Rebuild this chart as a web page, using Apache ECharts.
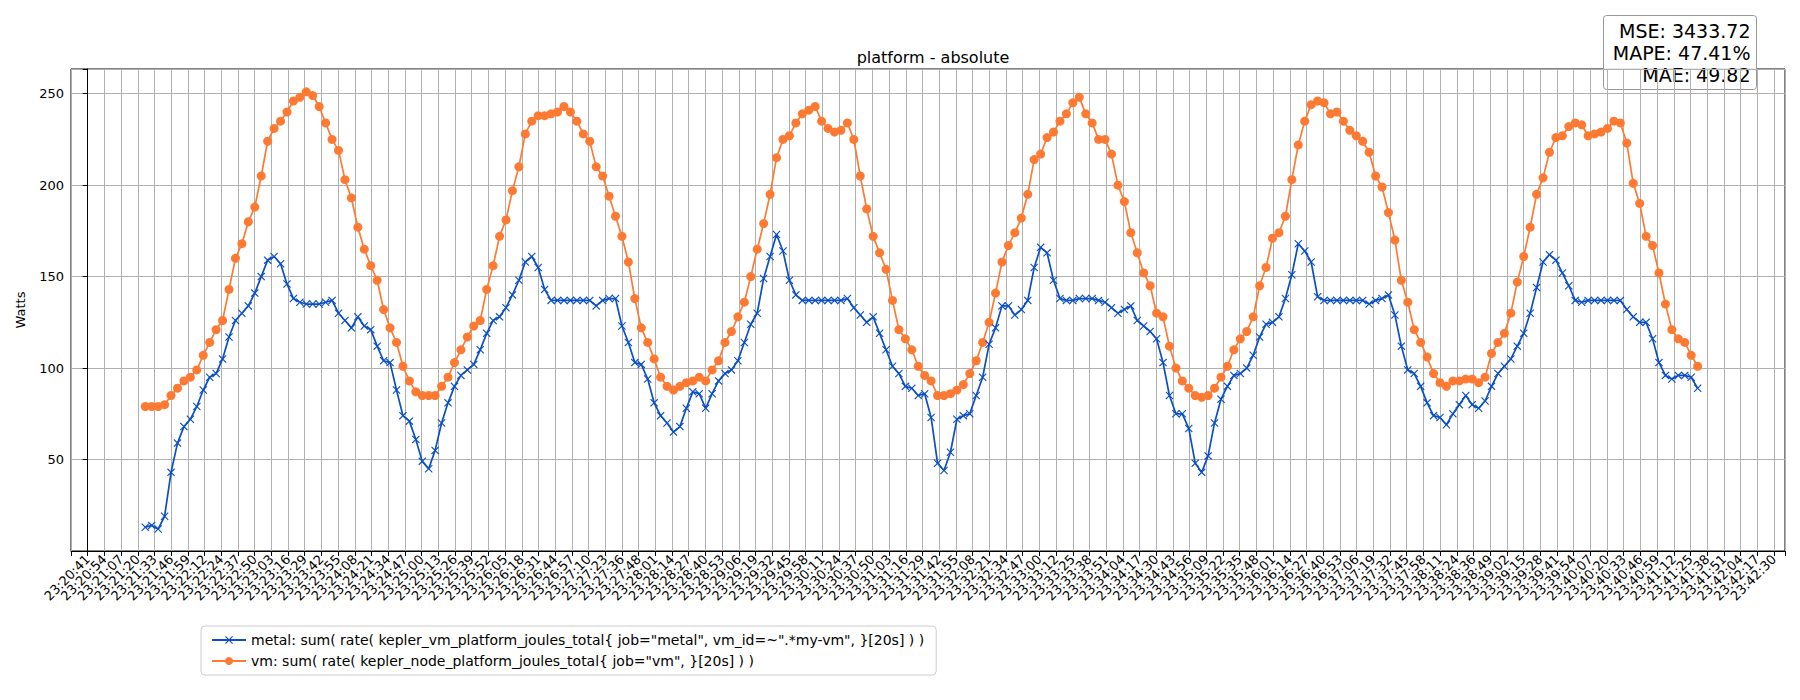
<!DOCTYPE html>
<html>
<head>
<meta charset="utf-8">
<script src="https://cdn.jsdelivr.net/npm/echarts@6/dist/echarts.min.js"></script>
<style>
  html, body { margin: 0; padding: 0; background: #fff; }
  #chart { width: 1800px; height: 700px; }
</style>
</head>
<body>
<div id="chart"></div>
<script>
// sample times: seconds after 23:20:00, one sample every 5 s
var startSec = 86;
var stepSec = 5;

var metalValues = [
  13, 14, 12, 19, 43, 59, 68, 72, 79, 88, 95, 97, 105, 117, 126, 130, 134, 141, 150, 159,
  161, 157, 146, 138, 136, 135, 135, 135, 136, 137, 130, 126, 122, 128, 123,
  121, 112, 104, 103, 88, 74, 71, 61, 49, 45, 55, 70, 81, 90, 96, 99, 102, 110, 119, 126,
  128, 133, 140, 148, 158, 161, 155, 143, 137, 137, 137, 137, 137, 137, 137, 134, 137, 138, 138, 123,
  114, 103, 102, 94, 81, 74, 70, 65, 68, 78, 87,
  86, 78, 86, 93, 97, 99, 104, 114, 124, 130, 149, 161, 173, 164, 148, 140, 137, 137, 137, 137,
  137, 137, 137, 138, 133, 129, 125, 128, 119, 110, 101, 97, 90, 89, 85, 86, 73, 48, 44, 54,
  72, 74, 75, 85, 95, 113, 122, 134, 134, 129, 132, 137, 155,
  166, 163, 148, 138, 137, 137, 138, 138, 138, 137, 136, 133, 130, 132, 134, 126, 123, 120, 116, 103,
  85, 75, 75, 67, 48, 43, 52, 70, 83, 90, 96, 97, 100, 107, 117, 124, 125, 128, 138, 151,
  168, 164, 158, 139, 137, 137, 137, 137, 137, 137, 137,
  135, 137, 138, 140, 129, 112, 99, 97, 90, 81, 74, 73, 69, 75, 80, 85, 80, 78, 82, 90,
  97, 101, 105, 112, 119, 130, 144, 158, 162, 159, 152, 145, 137, 136, 137, 137, 137, 137, 137, 137,
  132, 128, 125, 125, 116, 103, 96, 94, 96, 96, 95, 89
];

var vmValues = [
  79, 79, 79, 80, 85, 89, 93, 95, 99, 107, 114, 121, 126, 143, 160, 168, 180, 188, 205, 224,
  231, 235, 240, 246, 248, 251, 249, 243, 234, 225, 219, 203, 193, 177, 165,
  156, 148, 132, 122, 114, 101, 93, 87, 85, 85, 85, 90, 95, 103, 110, 117, 123, 126, 143, 156,
  172, 181, 197, 210, 228, 235, 238, 238, 239, 240, 243, 240, 235, 228, 224, 210, 205, 194, 183, 172,
  158, 138, 122, 114, 105, 95, 90, 88, 90, 92, 93,
  95, 93, 99, 104, 114, 120, 128, 136, 150, 165, 179, 195, 215, 225, 227, 234, 239, 241, 243, 235,
  231, 229, 230, 234, 225, 205, 187, 172, 163, 154, 137, 121, 116, 110, 101, 96, 93, 85, 85, 86,
  88, 91, 97, 104, 114, 125, 141, 158, 167, 174, 182, 195, 214,
  217, 226, 229, 235, 239, 245, 248, 239, 234, 225, 225, 217, 200, 191, 174, 163, 152, 145, 130, 128,
  112, 100, 93, 89, 85, 84, 85, 89, 95, 101, 110, 116, 120, 128, 145, 155, 171, 174, 183, 203,
  222, 235, 244, 246, 245, 239, 240, 235, 230, 227, 224,
  218, 205, 199, 185, 170, 148, 136, 121, 114, 106, 97, 92, 90, 93, 93, 94, 94, 92, 95, 108,
  114, 119, 130, 147, 161, 177, 195, 204, 218, 226, 227, 232, 234, 233, 227, 228, 229, 231, 235, 234,
  223, 201, 190, 172, 167, 152, 135, 121, 116, 114, 107, 101
];

// x tick labels: first tick at 23:20:41.3, ticks every 12.96 s
var tickStartSec = 41.3;
var tickStepSec = 12.96;
var tickCount = 102;

var yTicks = [50, 100, 150, 200, 250];

var seriesNames = [
  'metal: sum( rate( kepler_vm_platform_joules_total{ job="metal", vm_id=~".*my-vm", }[20s] ) )',
  'vm: sum( rate( kepler_node_platform_joules_total{ job="vm", }[20s] ) )'
];

var metrics = ['MSE: 3433.72', 'MAPE: 47.41%', 'MAE: 49.82'];

function pad(n) { return (n < 10 ? '0' : '') + n; }
function clock(sec) {
  var total = 23 * 3600 + 20 * 60 + sec;
  var h = Math.floor(total / 3600), m = Math.floor((total % 3600) / 60), s = total % 60;
  return pad(h) + ':' + pad(m) + ':' + pad(s);
}
function toTickUnits(sec) { return (sec - tickStartSec) / tickStepSec; }

function pairs(vals) {
  return vals.map(function (v, i) {
    return [toTickUnits(startSec + i * stepSec), v];
  });
}

var blue = '#0b4fc4';
var orange = '#fe7a33';
var font = 'DejaVu Sans';
var xMarker = 'path://M0,1L1,0L5,4L9,0L10,1L6,5L10,9L9,10L5,6L1,10L0,9L4,5Z';

var chart = echarts.init(document.getElementById('chart'), null, { renderer: 'svg' });
chart.setOption({
  animation: false,
  backgroundColor: '#fff',
  textStyle: { fontFamily: font },
  title: {
    text: 'platform - absolute',
    left: 928, top: 44, textAlign: 'center',
    textStyle: { fontFamily: font, fontSize: 16, fontWeight: 'normal', color: '#000' }
  },
  grid: {
    left: 71, right: 15, top: 69, bottom: 149,
    show: true, borderColor: '#000', borderWidth: 1, backgroundColor: 'transparent'
  },
  legend: {
    left: 201, top: 626, orient: 'vertical',
    padding: [7, 12, 7, 10], itemGap: 7, itemWidth: 34, itemHeight: 10,
    borderColor: '#cccccc', borderWidth: 1, borderRadius: 4,
    textStyle: { fontFamily: font, fontSize: 14, color: '#000' },
    data: seriesNames
  },
  xAxis: {
    type: 'value',
    min: -1,
    max: toTickUnits(tickStartSec + (tickCount - 1) * tickStepSec) + 0.66,
    interval: 1,
    axisLine: { show: true, lineStyle: { color: '#000' } },
    axisTick: { show: true, length: 5, lineStyle: { color: '#000' } },
    splitLine: { show: true, lineStyle: { color: '#b0b0b0', width: 1 } },
    axisLabel: {
      rotate: 45, fontSize: 13, color: '#000', fontFamily: font, margin: 6,
      showMinLabel: true, showMaxLabel: true, hideOverlap: false,
      formatter: function (v) {
        if (v < -0.01 || Math.abs(v - Math.round(v)) > 0.01 || Math.round(v) >= tickCount) return '';
        return clock(Math.floor(tickStartSec + Math.round(v) * tickStepSec));
      }
    }
  },
  yAxis: {
    type: 'value',
    min: 0, max: 263.5, interval: 50,
    name: 'Watts', nameLocation: 'middle', nameGap: 44,
    nameTextStyle: { fontFamily: font, fontSize: 13, color: '#000' },
    axisLine: { show: true, lineStyle: { color: '#000' } },
    axisTick: { show: true, length: 5, lineStyle: { color: '#000' } },
    splitLine: { show: true, lineStyle: { color: '#b0b0b0', width: 1 } },
    axisLabel: {
      fontSize: 13, color: '#000', fontFamily: font, margin: 7,
      formatter: function (v) { return yTicks.indexOf(v) >= 0 ? String(v) : ''; }
    }
  },
  series: [
    {
      name: seriesNames[0], type: 'line', data: pairs(metalValues),
      color: blue, symbol: xMarker, symbolSize: 8, showAllSymbol: true,
      lineStyle: { width: 1.7, color: blue }, itemStyle: { color: blue }, z: 3
    },
    {
      name: seriesNames[1], type: 'line', data: pairs(vmValues),
      color: orange, symbol: 'circle', symbolSize: 9, showAllSymbol: true,
      lineStyle: { width: 1.7, color: orange }, itemStyle: { color: orange }, z: 2
    }
  ],
  graphic: [{
    type: 'group', right: 43, top: 15, z: 100,
    children: [
      { type: 'rect', shape: { x: 0, y: 0, width: 153, height: 74, r: 3 },
        style: { fill: 'rgba(255,255,255,0.8)', stroke: '#999', lineWidth: 1 } },
      { type: 'text', x: 147, y: 4,
        style: { text: metrics.join('\n'), fontFamily: font, fontSize: 19, lineHeight: 22,
                 align: 'right', fill: '#000' } }
    ]
  }]
});
</script>
</body>
</html>
